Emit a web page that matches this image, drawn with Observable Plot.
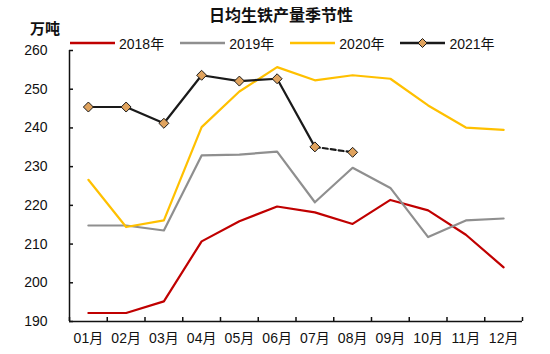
<!DOCTYPE html>
<html>
<head>
<meta charset="utf-8">
<script src="https://cdn.jsdelivr.net/npm/d3@7"></script>
<script src="https://cdn.jsdelivr.net/npm/@observablehq/plot@0.6"></script>
<style>
  html, body { margin: 0; padding: 0; background: #fff; }
  #wrap { position: relative; width: 550px; height: 354px; font-family: "Liberation Sans", "Noto Sans CJK SC", sans-serif; color: #111; }
  #wrap > svg { position: absolute; left: 0; top: 0; }
  .title { position: absolute; left: 0; width: 562px; top: 4px; text-align: center; font: bold 16px "Noto Sans CJK SC", sans-serif; line-height: 20px; }
  .unit { position: absolute; left: 30px; top: 18px; font: bold 15px "Noto Sans CJK SC", sans-serif; line-height: 20px; }
  .legend { position: absolute; left: 70px; top: 33px; display: flex; height: 20px; align-items: center; font-size: 14px; }
  .item { display: flex; align-items: center; margin-right: 16px; }
  .item svg { display: block; margin-right: 4px; }
</style>
</head>
<body>
<div id="wrap">
  <div class="title">日均生铁产量季节性</div>
  <div class="unit">万吨</div>
  <div class="legend" id="legend"></div>
</div>
<script>
const months = ["01月","02月","03月","04月","05月","06月","07月","08月","09月","10月","11月","12月"];
const seriesNames = ["2018年","2019年","2020年","2021年"];
const seriesColors = ["#C00000","#8F8F8F","#FFC000","#1A1A1A"];
const values2018 = [192.2,192.2,195.2,210.7,215.9,219.7,218.2,215.2,221.4,218.7,212.4,204.0];
const values2019 = [214.8,214.8,213.5,232.9,233.1,233.9,220.8,229.7,224.5,211.8,216.1,216.6];
const values2020 = [226.6,214.4,216.1,240.2,249.4,255.7,252.3,253.6,252.7,245.8,240.1,239.5];
const values2021 = [245.4,245.4,241.2,253.6,252.1,252.7,235.1,233.7];
const yTicks = [190,200,210,220,230,240,250,260];
const markerFill = "#E0A35E";

const allValues = [values2018, values2019, values2020, values2021];
const rows = [];
allValues.forEach((vals, s) => vals.forEach((v, i) => rows.push({series: seriesNames[s], i, x: i + 0.5, v})));
const solid = rows.filter(d => d.series !== "2021年" || d.i <= 6);
const dashed = rows.filter(d => d.series === "2021年" && d.i >= 6);
const dots = rows.filter(d => d.series === "2021年");

const W = 550, H = 354, mt = 50, mb = 33, ml = 69, mr = 28, tick = 4;
const font = "Liberation Sans, Noto Sans CJK SC, sans-serif";
const chart = Plot.plot({
  width: W,
  height: H,
  marginTop: mt,
  marginBottom: mb,
  marginLeft: ml,
  marginRight: mr,
  style: {fontFamily: font, fontSize: "14px", color: "#111", background: "transparent", overflow: "visible"},
  x: {domain: [0, 12]},
  y: {domain: [190, 260]},
  color: {domain: seriesNames, range: seriesColors},
  marks: [
    Plot.axisY(yTicks, {tickSize: 0, tickPadding: 22, fontSize: 14, label: null}),
    Plot.axisX(months.map((m, i) => i + 0.5), {tickSize: 0, tickPadding: 12, fontSize: 14, tickFormat: d => months[Math.floor(d)], label: null}),
    Plot.tickY(yTicks, {y: d => d, stroke: "#111", strokeWidth: 1.5, insetRight: W - ml - mr - tick}),
    Plot.tickX(d3.range(13), {x: d => d, stroke: "#111", strokeWidth: 1.5, insetTop: H - mt - mb - tick}),
    Plot.line(solid, {x: "x", y: "v", z: "series", stroke: "series", strokeWidth: 2.2}),
    Plot.line(dashed, {x: "x", y: "v", stroke: "series", strokeWidth: 2.2, strokeDasharray: "5,3"}),
    Plot.dot(dots, {x: "x", y: "v", symbol: "diamond2", r: 4.5, fill: markerFill, stroke: "#1A1A1A", strokeWidth: 1}),
    Plot.ruleX([0], {stroke: "#111", strokeWidth: 1.5}),
    Plot.ruleY([190], {stroke: "#111", strokeWidth: 1.5})
  ]
});
document.getElementById("wrap").insertBefore(chart, document.getElementById("wrap").firstChild);

const legend = document.getElementById("legend");
seriesNames.forEach((name, s) => {
  const item = document.createElement("div");
  item.className = "item";
  const marker = s === 3 ? `<path d="M22.5,5.5L27,10L22.5,14.5L18,10Z" fill="${markerFill}" stroke="#1A1A1A" stroke-width="1"/>` : "";
  item.innerHTML = `<svg width="45" height="20"><line x1="0" x2="45" y1="10" y2="10" stroke="${seriesColors[s]}" stroke-width="2.5"/>${marker}</svg><span>${name}</span>`;
  legend.appendChild(item);
});
</script>
</body>
</html>
